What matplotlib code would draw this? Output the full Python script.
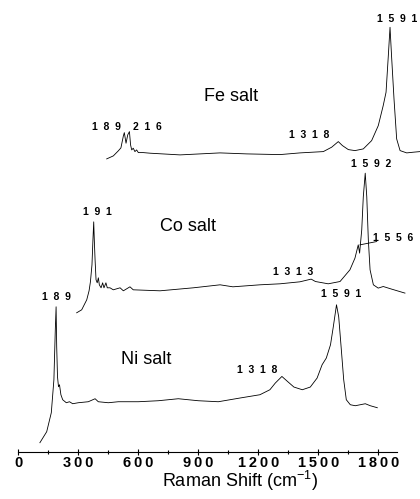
import numpy as np
import matplotlib
matplotlib.use("Agg")
import matplotlib.pyplot as plt
from matplotlib.ticker import MultipleLocator

# Espectros Raman (desplazamiento en cm-1, intensidad en u.a.)
ni_shift = [108, 142, 165, 178, 185, 189, 192, 196, 201, 206, 213, 222, 240, 256, 272,
            300, 350, 384, 400, 450, 500, 600, 700, 800, 850, 900, 1000, 1108, 1208,
            1258, 1285, 1318, 1346, 1378, 1420, 1460, 1494, 1519, 1540, 1561, 1575,
            1591, 1602, 1614, 1627, 1640, 1660, 1685, 1710, 1735, 1760, 1795]
ni_int = [-41, -30, -11, 22, 72, 95, 55, 25, 15, 17, 7, 2, -1, 0, -2,
          -1, 0, 3, 0, -1, 0, 0, 1, 3, 2, 1, 0, 3.7, 7,
          12, 18.7, 25.3, 20.3, 14.7, 12, 14.7, 23.7, 37, 43.7, 57, 75,
          97, 85, 55, 22, 2, -3, -4, -3, -2, -4, -6]

co_shift = [103, 129, 155, 167, 174, 182, 187, 191, 194, 198, 203, 209, 215, 220, 229,
            237, 244, 254, 261, 275, 292, 327, 344, 378, 395, 533, 705, 843, 909,
            1049, 1152, 1255, 1313, 1335, 1401, 1462, 1513, 1539, 1556, 1563, 1574,
            1582, 1592, 1600, 1608, 1617, 1634, 1659, 1685, 1728, 1797]
co_int = [-23, -20, -10, -1, 8, 25, 50, 68, 50, 30, 10, 7, 12, 5, 2,
          7, 2, 7, 2, 2, 0, 2, -1, 3, 0, -1, 2, 5, 3,
          5, 6, 8, 10.7, 8.3, 6, 8.3, 20, 31.7, 45, 36.7, 60,
          93, 116.7, 93, 50, 20, 5, 1.7, 3.3, 0.7, -3.3]

fe_shift = [96, 131, 157, 171, 184, 189, 198, 207, 216, 222, 228, 236, 245, 254, 263,
            289, 325, 483, 694, 835, 1010, 1116, 1239, 1283, 1318, 1340, 1371, 1406,
            1450, 1494, 1529, 1555, 1570, 1582, 1591, 1599, 1612, 1626, 1644, 1679,
            1714, 1749]
fe_int = [-5, -2, 3, 6, 18, 21.3, 10.7, 19, 22.3, 9, 4, 5.7, 2.3, 4, 1.3,
          1.3, 0.7, -1, 1, 0, -0.7, 1, 2.3, 6.7, 12.3, 8.3, 4.3, 3.3,
          5, 13.3, 28.3, 48.3, 61.7, 98.3, 126.7, 98.3, 55, 15, 3.3, 1,
          1.7, 2.3]

tick_values = [0, 300, 600, 900, 1200, 1500, 1800]

plt.rcParams['font.family'] = ['Liberation Sans', 'DejaVu Sans']
plt.rcParams['mathtext.fontset'] = 'custom'
plt.rcParams['mathtext.rm'] = 'Liberation Sans'
plt.rcParams['mathtext.it'] = 'Liberation Sans:italic'
plt.rcParams['mathtext.bf'] = 'Liberation Sans:bold'


def espaciar(texto, sep='  '):
    return sep.join(texto)


fig = plt.figure(figsize=(4.2, 4.99), dpi=100)
ax = fig.add_axes([18.3 / 420, 47.3 / 499, 378.4 / 420, 451.7 / 499])
ax.set_xlim(0, 1892)
ax.set_ylim(0, 452)

# cada traza: datos, desplazamiento x, escala x, desplazamiento y
trazas = [
    (ni_shift, ni_int, 0, 1.0, 50),
    (co_shift, co_int, 192, 0.969, 162),
    (fe_shift, fe_int, 351, 0.9476, 298),
]
for s, i, a, b, off in trazas:
    x = a + b * np.array(s)
    y = off + np.array(i)
    ax.plot(x, y, color='black', lw=0.6, clip_on=False)

# etiquetas de picos
etiquetas = [
    ('189', 188.5, 155), ('1318', 1193.5, 82), ('1591', 1612.5, 158),
    ('191', 393.5, 240), ('1313', 1373.5, 180), ('1592', 1763.5, 288),
    ('1556', 1873.5, 214),
    ('189', 438.5, 325), ('216', 643.5, 325), ('1318', 1453.5, 317),
    ('1591', 1893.5, 433),
]
for txt, x, y in etiquetas:
    ax.text(x, y, espaciar(txt), ha='center', va='center', fontsize=7.5,
            fontweight='bold', clip_on=False)

ax.plot([1708.5, 1792], [207, 210.3], color='black', lw=0.6, clip_on=False)

for txt, x, y in [('Ni salt', 638.5, 92), ('Co salt', 851, 225), ('Fe salt', 1063.5, 355)]:
    ax.text(x, y, txt, ha='center', va='center', fontsize=13)

# ejes
for lado in ['left', 'top', 'right']:
    ax.spines[lado].set_visible(False)
ax.spines['bottom'].set_linewidth(0.8)
ax.set_yticks([])
ax.set_xticks(tick_values)
ax.set_xticklabels([espaciar(str(v), '\u2009') for v in tick_values])
ax.xaxis.set_minor_locator(MultipleLocator(150))
ax.tick_params(axis='x', which='major', direction='inout', length=5, width=0.8,
               pad=0.5, labelsize=10.5)
ax.tick_params(axis='x', which='minor', direction='inout', length=3, width=0.8)
for lbl in ax.get_xticklabels():
    lbl.set_fontweight('bold')

fig.text(239.5 / 420, 1 - 487 / 499, 'Raman Shift (cm$^{-1}$)', ha='center',
         va='baseline', fontsize=13)

fig.savefig('out.png', dpi=100)
